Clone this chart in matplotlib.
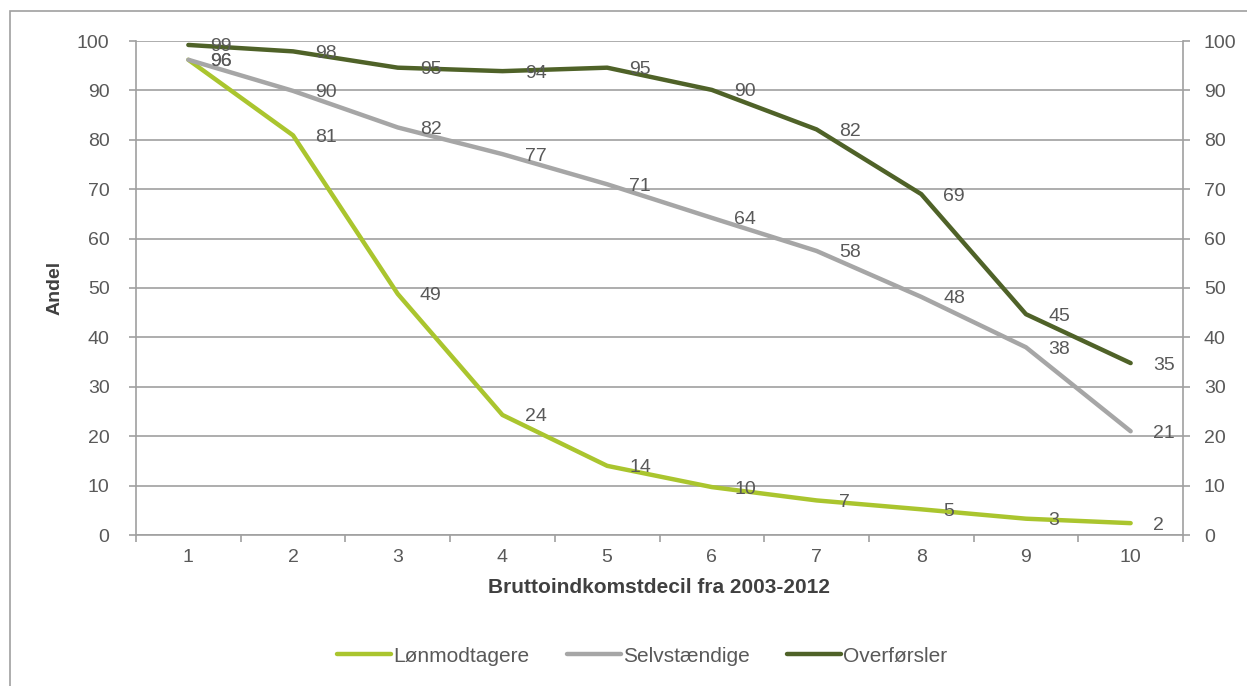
import matplotlib
matplotlib.use("Agg")
import matplotlib.pyplot as plt
from matplotlib.patches import Rectangle
import numpy as np

plt.rcParams['font.family'] = ['Liberation Sans', 'DejaVu Sans']

deciles = ["1", "2", "3", "4", "5", "6", "7", "8", "9", "10"]
lonmodtagere = [96.2, 80.9, 48.8, 24.3, 14.0, 9.7, 7.0, 5.2, 3.3, 2.4]
selvstaendige = [96.2, 89.9, 82.5, 77.1, 71.0, 64.2, 57.5, 48.2, 38.0, 21.0]
overforsler = [99.2, 97.9, 94.6, 93.9, 94.6, 90.1, 82.1, 69.0, 44.7, 34.8]
series_names = ["Lønmodtagere", "Selvstændige", "Overførsler"]
colors = ["#AAC52E", "#A6A6A6", "#4F6228"]
yticks = [0, 10, 20, 30, 40, 50, 60, 70, 80, 90, 100]

W, H = 1247, 686
fig = plt.figure(figsize=(W / 100, H / 100), dpi=100)
fig.patches.append(Rectangle((10 / W, -0.1), 1.2, 1 - 11 / H + 0.1, transform=fig.transFigure,
                             fill=False, edgecolor="#A0A0A0", linewidth=1.2))

ax = fig.add_axes([136 / W, 1 - 535 / H, (1183 - 136) / W, (535 - 41) / H])
x = np.arange(len(deciles))
tc = "#595959"
gc = "#A0A0A0"
fs = 14
for vals, name, c in zip([lonmodtagere, selvstaendige, overforsler], series_names, colors):
    ax.plot(x, vals, color=c, lw=3.2, label=name, solid_capstyle="round", solid_joinstyle="round", zorder=3)
    for xi, v in zip(x, vals):
        ax.annotate(f"{v:.0f}", (xi, v), xytext=(16, 0), textcoords="offset points",
                    ha="left", va="center_baseline", fontsize=fs, color=tc, zorder=4)

ax.set_xlim(-0.5, len(deciles) - 0.5)
ax.set_ylim(0, 100)
ax.set_yticks(yticks)
ax.grid(axis="y", color=gc, lw=1.2, zorder=1)
ax.set_xticks(x)
ax.set_xticklabels(deciles)
ax.set_xticks(np.arange(-0.5, len(deciles)), minor=True)
ax.tick_params(axis="x", which="major", length=0, pad=10, labelsize=fs, labelcolor=tc)
ax.tick_params(axis="x", which="minor", length=5, width=1.2, color=gc, direction="out")
ax.tick_params(axis="y", length=5, width=1.2, color=gc, direction="out", labelsize=fs,
               labelcolor=tc, pad=14)
ax.spines["top"].set_visible(False)
ax.spines["right"].set_visible(False)
for s in ["left", "bottom"]:
    ax.spines[s].set_color(gc)
    ax.spines[s].set_linewidth(1.2)

ax2 = ax.twinx()
ax2.set_ylim(0, 100)
ax2.set_yticks(yticks)
ax2.tick_params(axis="y", length=5, width=1.2, color=gc, direction="out", labelsize=fs,
                labelcolor=tc, pad=10)
for s in ["left", "top", "bottom"]:
    ax2.spines[s].set_visible(False)
ax2.spines["right"].set_color(gc)
ax2.spines["right"].set_linewidth(1.2)

ax.set_ylabel("Andel", fontsize=fs, fontweight="bold", color="#404040", labelpad=10)
ax.set_xlabel("Bruttoindkomstdecil fra 2003-2012", fontsize=15, fontweight="bold", color="#404040", labelpad=9)

leg = fig.legend(handles=ax.get_lines(), loc="center", bbox_to_anchor=(642 / W, 1 - 656 / H), ncol=3,
                 frameon=False, fontsize=15, handlelength=2.6, handletextpad=0.1, columnspacing=1.8)
for t in leg.get_texts():
    t.set_color(tc)
for l in leg.get_lines():
    l.set_linewidth(3.2)

fig.savefig("out.png", dpi=100)
